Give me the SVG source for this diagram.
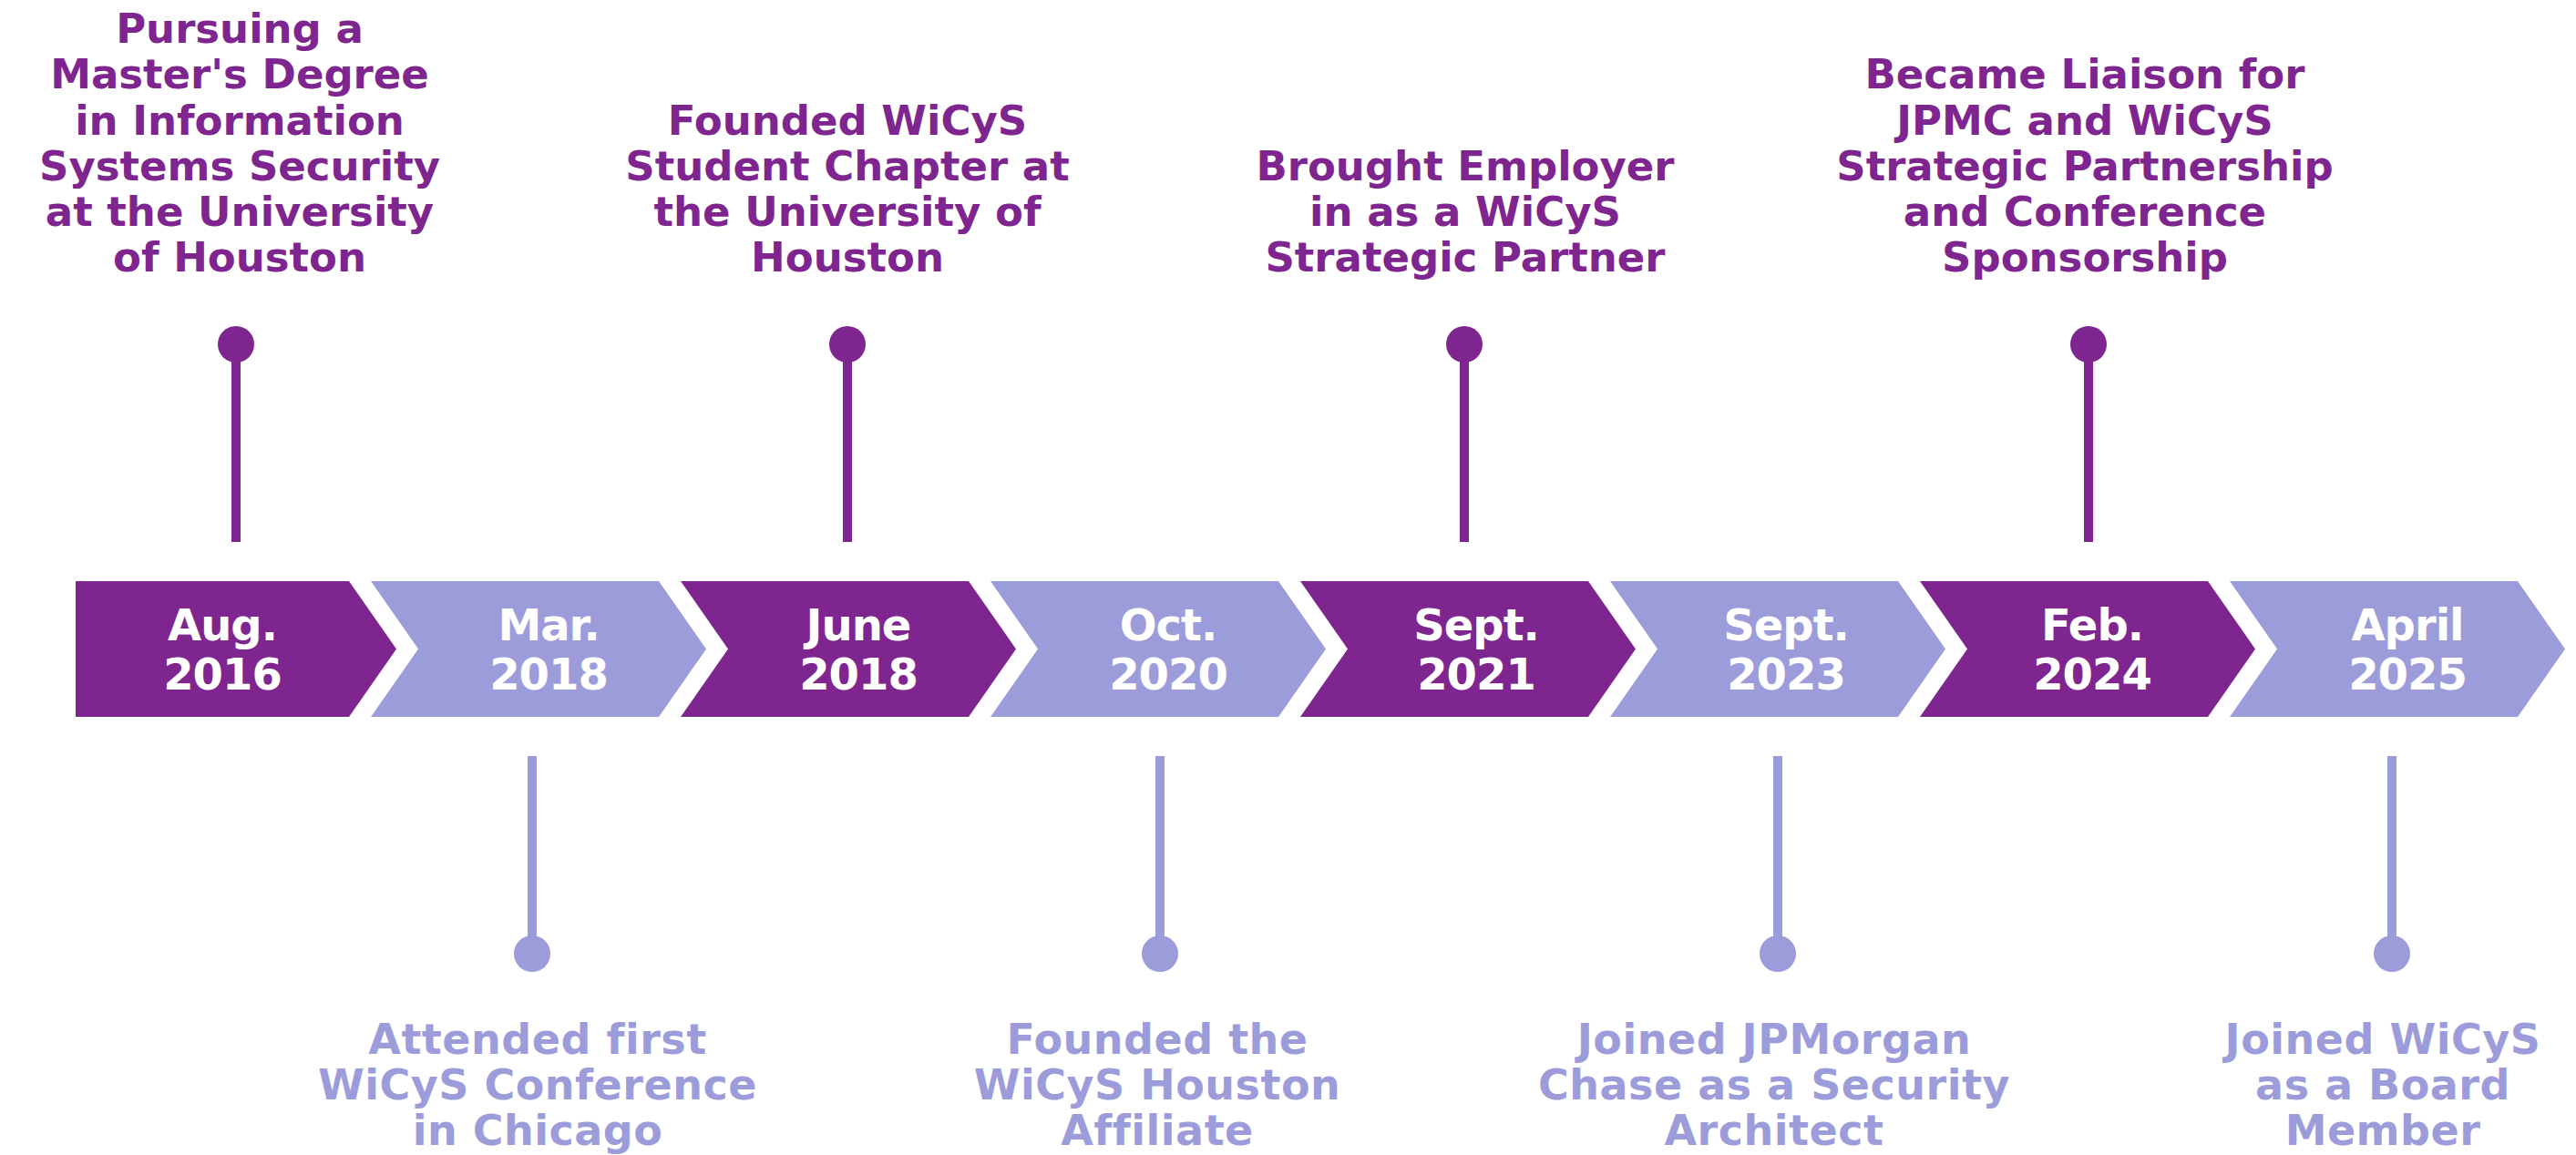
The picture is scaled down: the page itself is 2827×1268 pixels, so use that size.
<svg xmlns="http://www.w3.org/2000/svg" width="2827" height="1268" viewBox="0 0 2827 1268">
<style>
.bg{fill:#ffffff}
.p{fill:#7E2590}
.l{fill:#9C9CDB}
.date{font-family:"DejaVu Sans",sans-serif;font-weight:bold;font-size:48px;fill:#ffffff;text-anchor:middle;letter-spacing:-1px}
.tt{font-family:"DejaVu Sans",sans-serif;font-weight:bold;font-size:45px;fill:#7E2590;text-anchor:middle}
.bt{font-family:"DejaVu Sans",sans-serif;font-weight:bold;font-size:46px;fill:#9C9CDB;text-anchor:middle;letter-spacing:0.5px}
.sp{stroke:#7E2590;stroke-width:10}
.sl{stroke:#9C9CDB;stroke-width:10}
</style>
<rect class="bg" x="0" y="0" width="2827" height="1268"/>
<g id="connectors">
  <line class="sp" x1="259" y1="378" x2="259" y2="595"/>
  <circle class="p" cx="259" cy="378" r="20"/>
  <line class="sp" x1="930" y1="378" x2="930" y2="595"/>
  <circle class="p" cx="930" cy="378" r="20"/>
  <line class="sp" x1="1607" y1="378" x2="1607" y2="595"/>
  <circle class="p" cx="1607" cy="378" r="20"/>
  <line class="sp" x1="2292" y1="378" x2="2292" y2="595"/>
  <circle class="p" cx="2292" cy="378" r="20"/>
  <line class="sl" x1="584" y1="830" x2="584" y2="1047"/>
  <circle class="l" cx="584" cy="1047" r="20"/>
  <line class="sl" x1="1273" y1="830" x2="1273" y2="1047"/>
  <circle class="l" cx="1273" cy="1047" r="20"/>
  <line class="sl" x1="1951" y1="830" x2="1951" y2="1047"/>
  <circle class="l" cx="1951" cy="1047" r="20"/>
  <line class="sl" x1="2625" y1="830" x2="2625" y2="1047"/>
  <circle class="l" cx="2625" cy="1047" r="20"/>
</g>
<g id="chev1">
  <polygon class="p" points="83,638 383,638 435,712.5 383,787 83,787"/>
  <text class="date" x="244" y="703">Aug.</text>
  <text class="date" x="244" y="757">2016</text>
</g>
<g id="chev2">
  <polygon class="l" points="407,638 723,638 775,712.5 723,787 407,787 459,712.5"/>
  <text class="date" x="602" y="703">Mar.</text>
  <text class="date" x="602" y="757">2018</text>
</g>
<g id="chev3">
  <polygon class="p" points="747,638 1063,638 1115,712.5 1063,787 747,787 799,712.5"/>
  <text class="date" x="942" y="703">June</text>
  <text class="date" x="942" y="757">2018</text>
</g>
<g id="chev4">
  <polygon class="l" points="1087,638 1403,638 1455,712.5 1403,787 1087,787 1139,712.5"/>
  <text class="date" x="1282" y="703">Oct.</text>
  <text class="date" x="1282" y="757">2020</text>
</g>
<g id="chev5">
  <polygon class="p" points="1427,638 1743,638 1795,712.5 1743,787 1427,787 1479,712.5"/>
  <text class="date" x="1620" y="703">Sept.</text>
  <text class="date" x="1620" y="757">2021</text>
</g>
<g id="chev6">
  <polygon class="l" points="1767,638 2083,638 2135,712.5 2083,787 1767,787 1819,712.5"/>
  <text class="date" x="1960" y="703">Sept.</text>
  <text class="date" x="1960" y="757">2023</text>
</g>
<g id="chev7">
  <polygon class="p" points="2107,638 2423,638 2475,712.5 2423,787 2107,787 2159,712.5"/>
  <text class="date" x="2296" y="703">Feb.</text>
  <text class="date" x="2296" y="757">2024</text>
</g>
<g id="chev8">
  <polygon class="l" points="2447,638 2763,638 2815,712.5 2763,787 2447,787 2499,712.5"/>
  <text class="date" x="2642" y="703">April</text>
  <text class="date" x="2642" y="757">2025</text>
</g>
<g id="label-top1">
  <text class="tt" x="263" y="47">Pursuing a</text>
  <text class="tt" x="263" y="97">Master's Degree</text>
  <text class="tt" x="263" y="148">in Information</text>
  <text class="tt" x="263" y="198">Systems Security</text>
  <text class="tt" x="263" y="248">at the University</text>
  <text class="tt" x="263" y="298">of Houston</text>
</g>
<g id="label-top2">
  <text class="tt" x="930" y="148">Founded WiCyS</text>
  <text class="tt" x="930" y="198">Student Chapter at</text>
  <text class="tt" x="930" y="248">the University of</text>
  <text class="tt" x="930" y="298">Houston</text>
</g>
<g id="label-top3">
  <text class="tt" x="1608" y="198">Brought Employer</text>
  <text class="tt" x="1608" y="248">in as a WiCyS</text>
  <text class="tt" x="1608" y="298">Strategic Partner</text>
</g>
<g id="label-top4">
  <text class="tt" x="2288" y="97">Became Liaison for</text>
  <text class="tt" x="2288" y="148">JPMC and WiCyS</text>
  <text class="tt" x="2288" y="198">Strategic Partnership</text>
  <text class="tt" x="2288" y="248">and Conference</text>
  <text class="tt" x="2288" y="298">Sponsorship</text>
</g>
<g id="label-bot1">
  <text class="bt" x="590" y="1157">Attended first</text>
  <text class="bt" x="590" y="1207">WiCyS Conference</text>
  <text class="bt" x="590" y="1257">in Chicago</text>
</g>
<g id="label-bot2">
  <text class="bt" x="1270" y="1157">Founded the</text>
  <text class="bt" x="1270" y="1207">WiCyS Houston</text>
  <text class="bt" x="1270" y="1257">Affiliate</text>
</g>
<g id="label-bot3">
  <text class="bt" x="1947" y="1157">Joined JPMorgan</text>
  <text class="bt" x="1947" y="1207">Chase as a Security</text>
  <text class="bt" x="1947" y="1257">Architect</text>
</g>
<g id="label-bot4">
  <text class="bt" x="2615" y="1157">Joined WiCyS</text>
  <text class="bt" x="2615" y="1207">as a Board</text>
  <text class="bt" x="2615" y="1257">Member</text>
</g>
</svg>
